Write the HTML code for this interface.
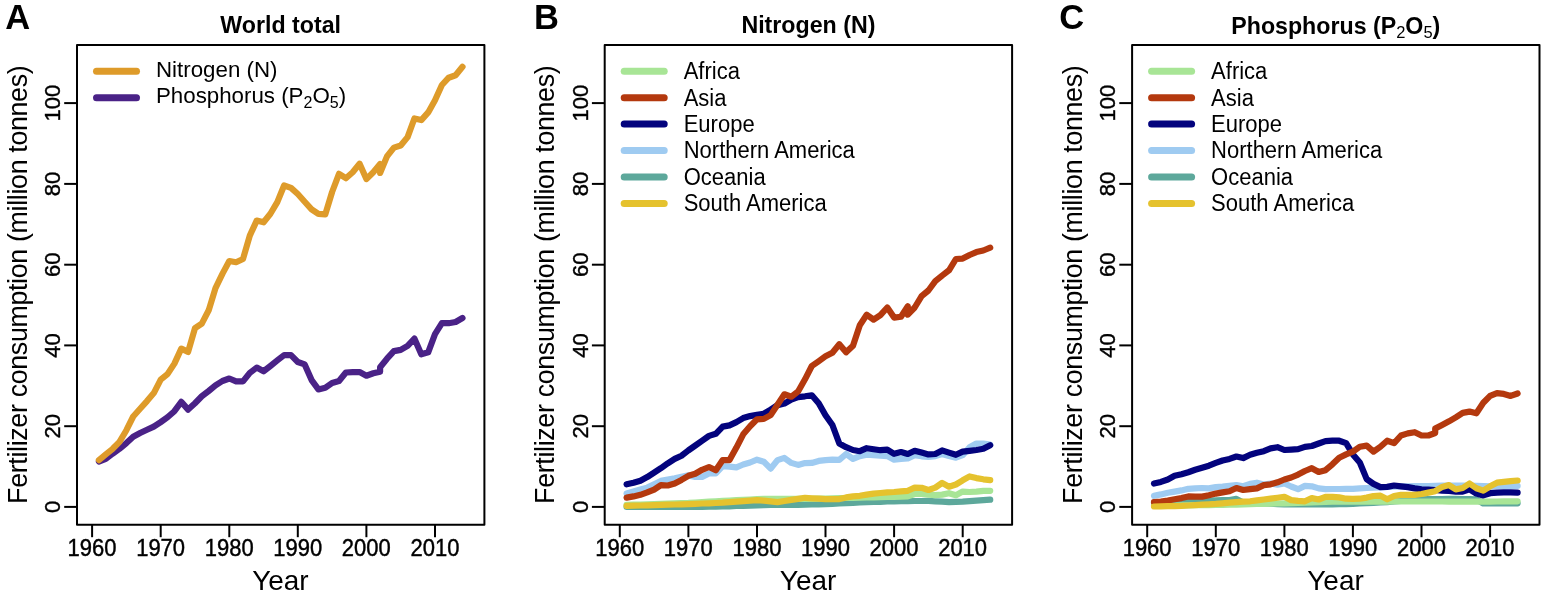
<!DOCTYPE html><html><head><meta charset="utf-8"><style>html,body{margin:0;padding:0;background:#fff;}svg{display:block;}</style></head><body>
<svg width="1547" height="598" viewBox="0 0 1547 598" font-family="'Liberation Sans', Arial, Helvetica, sans-serif">
<rect width="1547" height="598" fill="#fff"/>
<path d="M98.9 461.5 L105.8 458.9 L112.7 453.6 L119.5 448.8 L126.4 443.1 L133.2 436.7 L140.1 433.0 L147.0 429.8 L153.8 426.6 L160.7 422.1 L167.5 417.3 L174.4 411.2 L181.3 401.9 L188.1 409.6 L195.0 403.2 L201.8 396.3 L208.7 391.0 L215.5 385.4 L222.4 381.0 L229.3 378.5 L236.1 381.4 L243.0 381.4 L249.8 372.9 L256.7 367.6 L263.6 371.3 L270.4 366.0 L277.3 360.4 L284.1 355.1 L291.0 355.1 L297.8 362.0 L304.7 364.4 L311.6 380.1 L318.4 389.4 L325.3 387.8 L332.1 383.0 L339.0 381.0 L345.9 372.5 L352.7 372.1 L359.6 372.1 L366.4 375.7 L373.3 373.3 L380.1 371.7 L380.1 367.2 L387.0 358.7 L393.9 351.1 L400.7 349.9 L407.6 345.8 L414.4 338.6 L421.3 354.3 L428.2 352.3 L435.0 334.1 L441.9 323.2 L448.7 323.2 L455.6 322.0 L462.5 318.0" stroke="#4A2287" stroke-width="6.2" fill="none" stroke-linecap="round" stroke-linejoin="round"/>
<path d="M98.9 460.1 L105.8 454.4 L112.7 448.8 L119.5 441.9 L126.4 430.2 L133.2 416.5 L140.1 408.8 L147.0 401.1 L153.8 393.1 L160.7 379.7 L167.5 374.1 L174.4 363.6 L181.3 348.6 L188.1 351.9 L195.0 328.1 L201.8 323.6 L208.7 310.3 L215.5 288.1 L222.4 273.9 L229.3 261.0 L236.1 262.2 L243.0 259.0 L249.8 235.6 L256.7 220.6 L263.6 222.3 L270.4 213.8 L277.3 202.1 L284.1 185.5 L291.0 187.9 L297.8 194.0 L304.7 201.7 L311.6 209.3 L318.4 213.8 L325.3 214.4 L332.1 192.0 L339.0 173.8 L345.9 178.2 L352.7 172.2 L359.6 163.7 L366.4 179.1 L373.3 172.2 L380.1 164.1 L380.1 173.0 L387.0 156.4 L393.9 147.6 L400.7 145.5 L407.6 137.1 L414.4 118.5 L421.3 120.1 L428.2 112.4 L435.0 100.3 L441.9 85.0 L448.7 77.7 L455.6 75.3 L462.5 66.8" stroke="#DE9B2A" stroke-width="6.2" fill="none" stroke-linecap="round" stroke-linejoin="round"/>
<rect x="77.0" y="45.0" width="407.4" height="479.7" fill="none" stroke="#000" stroke-width="2" stroke-linejoin="round"/>
<line x1="92.1" y1="524.7" x2="92.1" y2="537.2" stroke="#000" stroke-width="2"/>
<text transform="translate(92.0,556.3) scale(1,1.08)" font-size="22.0" text-anchor="middle" stroke="#000" stroke-width="0.4">1960</text>
<line x1="160.7" y1="524.7" x2="160.7" y2="537.2" stroke="#000" stroke-width="2"/>
<text transform="translate(160.6,556.3) scale(1,1.08)" font-size="22.0" text-anchor="middle" stroke="#000" stroke-width="0.4">1970</text>
<line x1="229.3" y1="524.7" x2="229.3" y2="537.2" stroke="#000" stroke-width="2"/>
<text transform="translate(229.2,556.3) scale(1,1.08)" font-size="22.0" text-anchor="middle" stroke="#000" stroke-width="0.4">1980</text>
<line x1="297.8" y1="524.7" x2="297.8" y2="537.2" stroke="#000" stroke-width="2"/>
<text transform="translate(297.7,556.3) scale(1,1.08)" font-size="22.0" text-anchor="middle" stroke="#000" stroke-width="0.4">1990</text>
<line x1="366.4" y1="524.7" x2="366.4" y2="537.2" stroke="#000" stroke-width="2"/>
<text transform="translate(366.3,556.3) scale(1,1.08)" font-size="22.0" text-anchor="middle" stroke="#000" stroke-width="0.4">2000</text>
<line x1="435.0" y1="524.7" x2="435.0" y2="537.2" stroke="#000" stroke-width="2"/>
<text transform="translate(434.9,556.3) scale(1,1.08)" font-size="22.0" text-anchor="middle" stroke="#000" stroke-width="0.4">2010</text>
<line x1="64.2" y1="506.9" x2="77.0" y2="506.9" stroke="#000" stroke-width="2"/>
<text transform="translate(60.1,506.9) rotate(-90) scale(1,1.03)" font-size="22.0" text-anchor="middle" stroke="#000" stroke-width="0.4">0</text>
<line x1="64.2" y1="426.2" x2="77.0" y2="426.2" stroke="#000" stroke-width="2"/>
<text transform="translate(60.1,426.2) rotate(-90) scale(1,1.03)" font-size="22.0" text-anchor="middle" stroke="#000" stroke-width="0.4">20</text>
<line x1="64.2" y1="345.4" x2="77.0" y2="345.4" stroke="#000" stroke-width="2"/>
<text transform="translate(60.1,345.4) rotate(-90) scale(1,1.03)" font-size="22.0" text-anchor="middle" stroke="#000" stroke-width="0.4">40</text>
<line x1="64.2" y1="264.7" x2="77.0" y2="264.7" stroke="#000" stroke-width="2"/>
<text transform="translate(60.1,264.7) rotate(-90) scale(1,1.03)" font-size="22.0" text-anchor="middle" stroke="#000" stroke-width="0.4">60</text>
<line x1="64.2" y1="183.9" x2="77.0" y2="183.9" stroke="#000" stroke-width="2"/>
<text transform="translate(60.1,183.9) rotate(-90) scale(1,1.03)" font-size="22.0" text-anchor="middle" stroke="#000" stroke-width="0.4">80</text>
<line x1="64.2" y1="103.1" x2="77.0" y2="103.1" stroke="#000" stroke-width="2"/>
<text transform="translate(60.1,103.1) rotate(-90) scale(1,1.03)" font-size="22.0" text-anchor="middle" stroke="#000" stroke-width="0.4">100</text>
<text x="280.4" y="589.6" font-size="27.6" text-anchor="middle" textLength="56.5" lengthAdjust="spacingAndGlyphs">Year</text>
<text transform="translate(26.7,284.6) rotate(-90)" font-size="26.8" text-anchor="middle" textLength="438.6" lengthAdjust="spacing">Fertilizer consumption (million tonnes)</text>
<text x="280.7" y="32.9" font-size="23.2" font-weight="bold" text-anchor="middle">World total</text>
<text x="5.3" y="29.4" font-size="34.5" font-weight="bold">A</text>
<line x1="96.5" y1="71.2" x2="136.5" y2="71.2" stroke="#DE9B2A" stroke-width="7.0" stroke-linecap="round"/>
<text transform="translate(156.0,76.7) scale(1,1.0)" font-size="22.3">Nitrogen (N)</text>
<line x1="96.5" y1="97.7" x2="136.5" y2="97.7" stroke="#4A2287" stroke-width="7.0" stroke-linecap="round"/>
<text transform="translate(156.0,103.2) scale(1,1.0)" font-size="22.3">Phosphorus (P<tspan font-size="16.0" dy="4.3">2</tspan><tspan dy="-4.3">O</tspan><tspan font-size="16.0" dy="4.3">5</tspan><tspan dy="-4.3">)</tspan></text>
<path d="M626.6 506.9 L633.5 506.9 L640.4 506.9 L647.2 506.9 L654.1 506.9 L660.9 506.9 L667.8 506.9 L674.7 506.9 L681.5 506.9 L688.4 506.9 L695.2 506.9 L702.1 506.8 L709.0 506.7 L715.8 506.6 L722.7 506.5 L729.5 506.3 L736.4 506.0 L743.2 505.8 L750.1 505.6 L757.0 505.3 L763.8 505.2 L770.7 505.0 L777.5 504.9 L784.4 504.9 L791.3 504.8 L798.1 504.8 L805.0 504.7 L811.8 504.5 L818.7 504.3 L825.5 504.1 L832.4 503.8 L839.3 503.5 L846.1 503.1 L853.0 502.8 L859.8 502.5 L866.7 502.2 L873.6 502.0 L880.4 501.8 L887.3 501.5 L894.1 501.3 L901.0 501.2 L907.8 501.1 L914.7 501.0 L921.6 501.0 L928.4 500.9 L935.3 501.3 L942.1 501.7 L949.0 502.1 L955.9 501.9 L962.7 501.7 L969.6 501.2 L976.4 500.7 L983.3 500.2 L990.2 499.7" stroke="#5DA89B" stroke-width="6.2" fill="none" stroke-linecap="round" stroke-linejoin="round"/>
<path d="M626.6 504.9 L633.5 504.7 L640.4 504.5 L647.2 504.3 L654.1 504.1 L660.9 503.9 L667.8 503.6 L674.7 503.4 L681.5 503.1 L688.4 502.9 L695.2 502.5 L702.1 502.1 L709.0 501.7 L715.8 501.3 L722.7 500.9 L729.5 500.5 L736.4 500.2 L743.2 499.9 L750.1 499.5 L757.0 499.2 L763.8 498.9 L770.7 498.9 L777.5 498.9 L784.4 498.9 L791.3 498.9 L798.1 498.9 L805.0 498.9 L811.8 498.9 L818.7 498.7 L825.5 498.5 L832.4 498.3 L839.3 498.2 L846.1 498.0 L853.0 497.8 L859.8 497.6 L866.7 497.5 L873.6 497.3 L880.4 497.1 L887.3 497.0 L894.1 496.8 L901.0 496.6 L907.8 496.4 L914.7 494.0 L921.6 493.8 L928.4 494.6 L935.3 495.2 L942.1 494.6 L949.0 493.2 L955.9 495.2 L962.7 491.6 L969.6 492.0 L976.4 491.6 L983.3 490.8 L990.2 490.8" stroke="#A8E596" stroke-width="6.2" fill="none" stroke-linecap="round" stroke-linejoin="round"/>
<path d="M626.6 493.6 L633.5 491.6 L640.4 489.6 L647.2 487.6 L654.1 484.3 L660.9 480.9 L667.8 479.5 L674.7 478.3 L681.5 476.9 L688.4 475.4 L695.2 476.9 L702.1 476.9 L709.0 473.4 L715.8 473.4 L722.7 466.2 L729.5 466.6 L736.4 467.4 L743.2 464.5 L750.1 462.5 L757.0 459.7 L763.8 461.7 L770.7 468.6 L777.5 460.1 L784.4 457.9 L791.3 462.9 L798.1 464.9 L805.0 463.1 L811.8 462.9 L818.7 460.9 L825.5 460.1 L832.4 459.7 L839.3 459.9 L846.1 454.0 L853.0 458.9 L859.8 456.1 L866.7 454.6 L873.6 455.2 L880.4 455.7 L887.3 456.1 L894.1 459.7 L901.0 458.9 L907.8 458.5 L914.7 455.2 L921.6 456.3 L928.4 456.9 L935.3 456.1 L942.1 454.0 L949.0 456.1 L955.9 457.7 L962.7 455.2 L969.6 447.2 L976.4 443.5 L983.3 443.5 L990.2 444.5" stroke="#9FCBF1" stroke-width="6.2" fill="none" stroke-linecap="round" stroke-linejoin="round"/>
<path d="M626.6 484.3 L633.5 482.7 L640.4 480.7 L647.2 477.1 L654.1 472.6 L660.9 468.2 L667.8 463.3 L674.7 458.9 L681.5 455.7 L688.4 450.4 L695.2 445.6 L702.1 440.7 L709.0 435.9 L715.8 433.8 L722.7 426.6 L729.5 425.4 L736.4 422.1 L743.2 418.1 L750.1 416.1 L757.0 414.7 L763.8 413.7 L770.7 409.6 L777.5 405.2 L784.4 403.6 L791.3 399.5 L798.1 397.1 L805.0 396.3 L811.8 395.3 L818.7 403.2 L825.5 415.3 L832.4 425.0 L839.3 443.5 L846.1 447.2 L853.0 450.0 L859.8 451.2 L866.7 448.2 L873.6 449.2 L880.4 450.2 L887.3 449.6 L894.1 453.8 L901.0 452.0 L907.8 454.0 L914.7 450.8 L921.6 452.6 L928.4 454.4 L935.3 454.0 L942.1 450.4 L949.0 452.6 L955.9 454.8 L962.7 451.6 L969.6 450.8 L976.4 450.0 L983.3 448.8 L990.2 445.2" stroke="#03037D" stroke-width="6.2" fill="none" stroke-linecap="round" stroke-linejoin="round"/>
<path d="M626.6 497.6 L633.5 496.4 L640.4 494.8 L647.2 492.4 L654.1 489.6 L660.9 485.1 L667.8 485.5 L674.7 483.5 L681.5 479.9 L688.4 475.8 L695.2 473.8 L702.1 469.8 L709.0 467.0 L715.8 470.2 L722.7 460.1 L729.5 460.1 L736.4 447.6 L743.2 434.3 L750.1 426.2 L757.0 419.3 L763.8 418.9 L770.7 415.1 L777.5 404.8 L784.4 394.3 L791.3 396.7 L798.1 391.5 L805.0 379.3 L811.8 366.0 L818.7 361.2 L825.5 356.3 L832.4 352.7 L839.3 344.2 L846.1 352.3 L853.0 345.8 L859.8 325.2 L866.7 314.7 L873.6 319.6 L880.4 315.1 L887.3 307.5 L894.1 317.6 L901.0 316.7 L907.8 306.3 L907.8 314.7 L914.7 307.5 L921.6 296.2 L928.4 290.5 L935.3 281.2 L942.1 275.6 L949.0 270.3 L955.9 259.0 L962.7 258.6 L969.6 255.0 L976.4 252.1 L983.3 250.5 L990.2 247.7" stroke="#B4390E" stroke-width="6.2" fill="none" stroke-linecap="round" stroke-linejoin="round"/>
<path d="M626.6 505.9 L633.5 505.7 L640.4 505.5 L647.2 505.3 L654.1 505.1 L660.9 504.9 L667.8 504.7 L674.7 504.5 L681.5 504.3 L688.4 504.1 L695.2 503.8 L702.1 503.5 L709.0 503.3 L715.8 503.0 L722.7 502.7 L729.5 502.2 L736.4 501.6 L743.2 501.1 L750.1 500.6 L757.0 500.1 L763.8 500.7 L770.7 501.4 L777.5 502.1 L784.4 501.0 L791.3 499.9 L798.1 498.9 L805.0 497.8 L811.8 498.3 L818.7 498.7 L825.5 499.1 L832.4 499.1 L839.3 499.1 L846.1 497.4 L853.0 496.4 L859.8 495.8 L866.7 494.6 L873.6 493.6 L880.4 493.0 L887.3 492.4 L894.1 492.0 L901.0 491.4 L907.8 490.8 L914.7 487.6 L921.6 487.8 L928.4 490.0 L935.3 487.6 L942.1 482.9 L949.0 486.7 L955.9 484.5 L962.7 480.3 L969.6 476.4 L976.4 478.1 L983.3 479.3 L990.2 480.1" stroke="#E5C22E" stroke-width="6.2" fill="none" stroke-linecap="round" stroke-linejoin="round"/>
<rect x="604.7" y="45.0" width="407.4" height="479.7" fill="none" stroke="#000" stroke-width="2" stroke-linejoin="round"/>
<line x1="619.8" y1="524.7" x2="619.8" y2="537.2" stroke="#000" stroke-width="2"/>
<text transform="translate(619.7,556.3) scale(1,1.08)" font-size="22.0" text-anchor="middle" stroke="#000" stroke-width="0.4">1960</text>
<line x1="688.4" y1="524.7" x2="688.4" y2="537.2" stroke="#000" stroke-width="2"/>
<text transform="translate(688.3,556.3) scale(1,1.08)" font-size="22.0" text-anchor="middle" stroke="#000" stroke-width="0.4">1970</text>
<line x1="757.0" y1="524.7" x2="757.0" y2="537.2" stroke="#000" stroke-width="2"/>
<text transform="translate(756.9,556.3) scale(1,1.08)" font-size="22.0" text-anchor="middle" stroke="#000" stroke-width="0.4">1980</text>
<line x1="825.5" y1="524.7" x2="825.5" y2="537.2" stroke="#000" stroke-width="2"/>
<text transform="translate(825.4,556.3) scale(1,1.08)" font-size="22.0" text-anchor="middle" stroke="#000" stroke-width="0.4">1990</text>
<line x1="894.1" y1="524.7" x2="894.1" y2="537.2" stroke="#000" stroke-width="2"/>
<text transform="translate(894.0,556.3) scale(1,1.08)" font-size="22.0" text-anchor="middle" stroke="#000" stroke-width="0.4">2000</text>
<line x1="962.7" y1="524.7" x2="962.7" y2="537.2" stroke="#000" stroke-width="2"/>
<text transform="translate(962.6,556.3) scale(1,1.08)" font-size="22.0" text-anchor="middle" stroke="#000" stroke-width="0.4">2010</text>
<line x1="591.9" y1="506.9" x2="604.7" y2="506.9" stroke="#000" stroke-width="2"/>
<text transform="translate(587.8,506.9) rotate(-90) scale(1,1.03)" font-size="22.0" text-anchor="middle" stroke="#000" stroke-width="0.4">0</text>
<line x1="591.9" y1="426.2" x2="604.7" y2="426.2" stroke="#000" stroke-width="2"/>
<text transform="translate(587.8,426.2) rotate(-90) scale(1,1.03)" font-size="22.0" text-anchor="middle" stroke="#000" stroke-width="0.4">20</text>
<line x1="591.9" y1="345.4" x2="604.7" y2="345.4" stroke="#000" stroke-width="2"/>
<text transform="translate(587.8,345.4) rotate(-90) scale(1,1.03)" font-size="22.0" text-anchor="middle" stroke="#000" stroke-width="0.4">40</text>
<line x1="591.9" y1="264.7" x2="604.7" y2="264.7" stroke="#000" stroke-width="2"/>
<text transform="translate(587.8,264.7) rotate(-90) scale(1,1.03)" font-size="22.0" text-anchor="middle" stroke="#000" stroke-width="0.4">60</text>
<line x1="591.9" y1="183.9" x2="604.7" y2="183.9" stroke="#000" stroke-width="2"/>
<text transform="translate(587.8,183.9) rotate(-90) scale(1,1.03)" font-size="22.0" text-anchor="middle" stroke="#000" stroke-width="0.4">80</text>
<line x1="591.9" y1="103.1" x2="604.7" y2="103.1" stroke="#000" stroke-width="2"/>
<text transform="translate(587.8,103.1) rotate(-90) scale(1,1.03)" font-size="22.0" text-anchor="middle" stroke="#000" stroke-width="0.4">100</text>
<text x="808.1" y="589.6" font-size="27.6" text-anchor="middle" textLength="56.5" lengthAdjust="spacingAndGlyphs">Year</text>
<text transform="translate(554.4,284.6) rotate(-90)" font-size="26.8" text-anchor="middle" textLength="438.6" lengthAdjust="spacing">Fertilizer consumption (million tonnes)</text>
<text x="808.4" y="32.9" font-size="23.2" font-weight="bold" text-anchor="middle">Nitrogen (N)</text>
<text x="533.9" y="29.4" font-size="34.5" font-weight="bold">B</text>
<line x1="624.2" y1="71.2" x2="664.2" y2="71.2" stroke="#A8E596" stroke-width="7.0" stroke-linecap="round"/>
<text transform="translate(683.7,79.0) scale(1,1.05)" font-size="22.0">Africa</text>
<line x1="624.2" y1="97.7" x2="664.2" y2="97.7" stroke="#B4390E" stroke-width="7.0" stroke-linecap="round"/>
<text transform="translate(683.7,105.5) scale(1,1.05)" font-size="22.0">Asia</text>
<line x1="624.2" y1="124.1" x2="664.2" y2="124.1" stroke="#03037D" stroke-width="7.0" stroke-linecap="round"/>
<text transform="translate(683.7,131.9) scale(1,1.05)" font-size="22.0">Europe</text>
<line x1="624.2" y1="150.6" x2="664.2" y2="150.6" stroke="#9FCBF1" stroke-width="7.0" stroke-linecap="round"/>
<text transform="translate(683.7,158.4) scale(1,1.05)" font-size="22.0">Northern America</text>
<line x1="624.2" y1="177.0" x2="664.2" y2="177.0" stroke="#5DA89B" stroke-width="7.0" stroke-linecap="round"/>
<text transform="translate(683.7,184.8) scale(1,1.05)" font-size="22.0">Oceania</text>
<line x1="624.2" y1="203.4" x2="664.2" y2="203.4" stroke="#E5C22E" stroke-width="7.0" stroke-linecap="round"/>
<text transform="translate(683.7,211.2) scale(1,1.05)" font-size="22.0">South America</text>
<path d="M1154.0 502.9 L1160.9 502.5 L1167.8 502.1 L1174.6 501.7 L1181.5 501.3 L1188.3 500.9 L1195.2 500.7 L1202.1 500.6 L1208.9 500.5 L1215.8 500.3 L1222.6 500.2 L1229.5 500.1 L1236.4 498.9 L1243.2 502.5 L1250.1 502.8 L1256.9 503.1 L1263.8 503.4 L1270.6 503.7 L1277.5 504.1 L1284.4 504.5 L1291.2 504.5 L1298.1 504.5 L1304.9 504.5 L1311.8 504.5 L1318.7 504.5 L1325.5 504.5 L1332.4 504.4 L1339.2 504.2 L1346.1 504.1 L1352.9 503.9 L1359.8 503.5 L1366.7 503.2 L1373.5 502.8 L1380.4 502.5 L1387.2 502.1 L1394.1 501.5 L1401.0 501.0 L1407.8 500.4 L1414.7 499.8 L1421.5 499.3 L1428.4 499.2 L1435.2 499.1 L1442.1 499.0 L1449.0 498.9 L1455.8 498.9 L1462.7 499.0 L1469.5 499.1 L1476.4 499.3 L1483.3 503.5 L1490.1 503.5 L1497.0 503.4 L1503.8 503.4 L1510.7 503.3 L1517.6 503.3" stroke="#5DA89B" stroke-width="6.2" fill="none" stroke-linecap="round" stroke-linejoin="round"/>
<path d="M1154.0 505.7 L1160.9 505.6 L1167.8 505.6 L1174.6 505.5 L1181.5 505.4 L1188.3 505.3 L1195.2 505.2 L1202.1 505.2 L1208.9 505.1 L1215.8 505.0 L1222.6 504.9 L1229.5 504.7 L1236.4 504.6 L1243.2 504.4 L1250.1 504.2 L1256.9 504.0 L1263.8 503.8 L1270.6 503.7 L1277.5 503.5 L1284.4 503.3 L1291.2 503.1 L1298.1 502.8 L1304.9 502.6 L1311.8 502.4 L1318.7 502.1 L1325.5 501.9 L1332.4 501.7 L1339.2 501.7 L1346.1 501.7 L1352.9 501.6 L1359.8 501.6 L1366.7 501.6 L1373.5 501.6 L1380.4 501.6 L1387.2 501.6 L1394.1 501.5 L1401.0 501.5 L1407.8 501.5 L1414.7 501.5 L1421.5 501.5 L1428.4 501.5 L1435.2 501.5 L1442.1 501.5 L1449.0 501.6 L1455.8 501.6 L1462.7 501.6 L1469.5 501.6 L1476.4 501.7 L1483.3 501.7 L1490.1 501.6 L1497.0 501.5 L1503.8 501.4 L1510.7 501.4 L1517.6 501.3" stroke="#A8E596" stroke-width="6.2" fill="none" stroke-linecap="round" stroke-linejoin="round"/>
<path d="M1154.0 495.8 L1160.9 494.4 L1167.8 492.8 L1174.6 491.6 L1181.5 490.4 L1188.3 488.8 L1195.2 488.4 L1202.1 488.0 L1208.9 488.4 L1215.8 487.1 L1222.6 486.7 L1229.5 485.9 L1236.4 485.1 L1243.2 486.3 L1250.1 483.9 L1256.9 482.7 L1263.8 484.5 L1270.6 483.5 L1277.5 484.7 L1284.4 483.5 L1291.2 486.5 L1298.1 489.2 L1304.9 485.9 L1311.8 486.3 L1318.7 488.4 L1325.5 489.2 L1332.4 489.0 L1339.2 489.0 L1346.1 488.9 L1352.9 488.8 L1359.8 488.4 L1366.7 488.0 L1373.5 487.6 L1380.4 487.3 L1387.2 487.0 L1394.1 486.7 L1401.0 486.3 L1407.8 486.3 L1414.7 486.2 L1421.5 486.1 L1428.4 486.0 L1435.2 485.9 L1442.1 485.7 L1449.0 485.5 L1455.8 485.5 L1462.7 485.5 L1469.5 485.7 L1476.4 485.9 L1483.3 486.1 L1490.1 486.3 L1497.0 486.2 L1503.8 486.1 L1510.7 486.0 L1517.6 485.9" stroke="#9FCBF1" stroke-width="6.2" fill="none" stroke-linecap="round" stroke-linejoin="round"/>
<path d="M1154.0 483.5 L1160.9 481.9 L1167.8 479.5 L1174.6 475.8 L1181.5 474.2 L1188.3 472.2 L1195.2 469.8 L1202.1 467.8 L1208.9 465.7 L1215.8 462.9 L1222.6 460.5 L1229.5 458.9 L1236.4 456.5 L1243.2 458.1 L1250.1 454.8 L1256.9 452.8 L1263.8 451.2 L1270.6 448.4 L1277.5 447.2 L1284.4 450.0 L1291.2 449.6 L1298.1 449.2 L1304.9 446.8 L1311.8 446.0 L1318.7 443.5 L1325.5 441.1 L1332.4 440.7 L1339.2 440.7 L1346.1 443.1 L1352.9 454.4 L1359.8 462.5 L1366.7 479.1 L1373.5 483.9 L1380.4 487.1 L1387.2 486.9 L1394.1 485.5 L1401.0 486.3 L1407.8 487.1 L1414.7 488.4 L1421.5 489.4 L1428.4 489.6 L1435.2 490.0 L1442.1 490.6 L1449.0 491.0 L1455.8 491.6 L1462.7 491.6 L1469.5 489.4 L1476.4 493.6 L1483.3 495.4 L1490.1 493.2 L1497.0 492.6 L1503.8 492.4 L1510.7 492.4 L1517.6 492.6" stroke="#03037D" stroke-width="6.2" fill="none" stroke-linecap="round" stroke-linejoin="round"/>
<path d="M1154.0 502.2 L1160.9 501.5 L1167.8 500.5 L1174.6 499.3 L1181.5 498.1 L1188.3 496.4 L1195.2 496.6 L1202.1 496.6 L1208.9 495.2 L1215.8 493.6 L1222.6 492.4 L1229.5 491.2 L1236.4 488.0 L1243.2 490.0 L1250.1 489.2 L1256.9 488.4 L1263.8 485.1 L1270.6 484.3 L1277.5 482.3 L1284.4 479.5 L1291.2 477.5 L1298.1 474.6 L1304.9 471.0 L1311.8 468.2 L1318.7 472.0 L1325.5 470.2 L1332.4 464.3 L1339.2 457.7 L1346.1 454.4 L1352.9 451.6 L1359.8 446.8 L1366.7 445.6 L1373.5 451.6 L1380.4 446.8 L1387.2 440.7 L1394.1 443.1 L1401.0 435.5 L1407.8 433.4 L1414.7 432.2 L1421.5 435.5 L1428.4 435.5 L1435.2 433.0 L1435.2 428.6 L1442.1 425.0 L1449.0 421.3 L1455.8 417.3 L1462.7 412.9 L1469.5 411.6 L1476.4 413.3 L1483.3 402.8 L1490.1 395.9 L1497.0 393.1 L1503.8 393.9 L1510.7 395.9 L1517.6 393.5" stroke="#B4390E" stroke-width="6.2" fill="none" stroke-linecap="round" stroke-linejoin="round"/>
<path d="M1154.0 506.5 L1160.9 506.4 L1167.8 506.2 L1174.6 506.1 L1181.5 505.9 L1188.3 505.5 L1195.2 505.1 L1202.1 504.7 L1208.9 504.3 L1215.8 503.9 L1222.6 503.3 L1229.5 502.7 L1236.4 502.1 L1243.2 501.7 L1250.1 501.3 L1256.9 500.4 L1263.8 499.5 L1270.6 498.6 L1277.5 497.7 L1284.4 496.8 L1291.2 500.1 L1298.1 500.9 L1304.9 501.3 L1311.8 498.1 L1318.7 499.5 L1325.5 496.8 L1332.4 496.8 L1339.2 497.4 L1346.1 498.7 L1352.9 498.9 L1359.8 498.7 L1366.7 497.6 L1373.5 496.0 L1380.4 495.6 L1387.2 499.3 L1394.1 496.0 L1401.0 494.8 L1407.8 494.8 L1414.7 494.8 L1421.5 494.0 L1428.4 492.6 L1435.2 491.2 L1442.1 486.9 L1449.0 485.1 L1455.8 489.4 L1462.7 488.0 L1469.5 483.5 L1476.4 488.2 L1483.3 490.6 L1490.1 486.3 L1497.0 482.7 L1503.8 481.9 L1510.7 481.1 L1517.6 480.5" stroke="#E5C22E" stroke-width="6.2" fill="none" stroke-linecap="round" stroke-linejoin="round"/>
<rect x="1132.1" y="45.0" width="407.4" height="479.7" fill="none" stroke="#000" stroke-width="2" stroke-linejoin="round"/>
<line x1="1147.2" y1="524.7" x2="1147.2" y2="537.2" stroke="#000" stroke-width="2"/>
<text transform="translate(1147.1,556.3) scale(1,1.08)" font-size="22.0" text-anchor="middle" stroke="#000" stroke-width="0.4">1960</text>
<line x1="1215.8" y1="524.7" x2="1215.8" y2="537.2" stroke="#000" stroke-width="2"/>
<text transform="translate(1215.7,556.3) scale(1,1.08)" font-size="22.0" text-anchor="middle" stroke="#000" stroke-width="0.4">1970</text>
<line x1="1284.4" y1="524.7" x2="1284.4" y2="537.2" stroke="#000" stroke-width="2"/>
<text transform="translate(1284.3,556.3) scale(1,1.08)" font-size="22.0" text-anchor="middle" stroke="#000" stroke-width="0.4">1980</text>
<line x1="1352.9" y1="524.7" x2="1352.9" y2="537.2" stroke="#000" stroke-width="2"/>
<text transform="translate(1352.8,556.3) scale(1,1.08)" font-size="22.0" text-anchor="middle" stroke="#000" stroke-width="0.4">1990</text>
<line x1="1421.5" y1="524.7" x2="1421.5" y2="537.2" stroke="#000" stroke-width="2"/>
<text transform="translate(1421.4,556.3) scale(1,1.08)" font-size="22.0" text-anchor="middle" stroke="#000" stroke-width="0.4">2000</text>
<line x1="1490.1" y1="524.7" x2="1490.1" y2="537.2" stroke="#000" stroke-width="2"/>
<text transform="translate(1490.0,556.3) scale(1,1.08)" font-size="22.0" text-anchor="middle" stroke="#000" stroke-width="0.4">2010</text>
<line x1="1119.3" y1="506.9" x2="1132.1" y2="506.9" stroke="#000" stroke-width="2"/>
<text transform="translate(1115.2,506.9) rotate(-90) scale(1,1.03)" font-size="22.0" text-anchor="middle" stroke="#000" stroke-width="0.4">0</text>
<line x1="1119.3" y1="426.2" x2="1132.1" y2="426.2" stroke="#000" stroke-width="2"/>
<text transform="translate(1115.2,426.2) rotate(-90) scale(1,1.03)" font-size="22.0" text-anchor="middle" stroke="#000" stroke-width="0.4">20</text>
<line x1="1119.3" y1="345.4" x2="1132.1" y2="345.4" stroke="#000" stroke-width="2"/>
<text transform="translate(1115.2,345.4) rotate(-90) scale(1,1.03)" font-size="22.0" text-anchor="middle" stroke="#000" stroke-width="0.4">40</text>
<line x1="1119.3" y1="264.7" x2="1132.1" y2="264.7" stroke="#000" stroke-width="2"/>
<text transform="translate(1115.2,264.7) rotate(-90) scale(1,1.03)" font-size="22.0" text-anchor="middle" stroke="#000" stroke-width="0.4">60</text>
<line x1="1119.3" y1="183.9" x2="1132.1" y2="183.9" stroke="#000" stroke-width="2"/>
<text transform="translate(1115.2,183.9) rotate(-90) scale(1,1.03)" font-size="22.0" text-anchor="middle" stroke="#000" stroke-width="0.4">80</text>
<line x1="1119.3" y1="103.1" x2="1132.1" y2="103.1" stroke="#000" stroke-width="2"/>
<text transform="translate(1115.2,103.1) rotate(-90) scale(1,1.03)" font-size="22.0" text-anchor="middle" stroke="#000" stroke-width="0.4">100</text>
<text x="1335.5" y="589.6" font-size="27.6" text-anchor="middle" textLength="56.5" lengthAdjust="spacingAndGlyphs">Year</text>
<text transform="translate(1081.8,284.6) rotate(-90)" font-size="26.8" text-anchor="middle" textLength="438.6" lengthAdjust="spacing">Fertilizer consumption (million tonnes)</text>
<text x="1335.8" y="33.7" font-size="23.2" font-weight="bold" text-anchor="middle">Phosphorus (P<tspan font-weight="normal" font-size="16.5" dy="4.6">2</tspan><tspan dy="-4.6">O</tspan><tspan font-weight="normal" font-size="16.5" dy="4.6">5</tspan><tspan dy="-4.6">)</tspan></text>
<text x="1059.2" y="29.4" font-size="34.5" font-weight="bold">C</text>
<line x1="1151.6" y1="71.2" x2="1191.6" y2="71.2" stroke="#A8E596" stroke-width="7.0" stroke-linecap="round"/>
<text transform="translate(1211.1,79.0) scale(1,1.05)" font-size="22.0">Africa</text>
<line x1="1151.6" y1="97.7" x2="1191.6" y2="97.7" stroke="#B4390E" stroke-width="7.0" stroke-linecap="round"/>
<text transform="translate(1211.1,105.5) scale(1,1.05)" font-size="22.0">Asia</text>
<line x1="1151.6" y1="124.1" x2="1191.6" y2="124.1" stroke="#03037D" stroke-width="7.0" stroke-linecap="round"/>
<text transform="translate(1211.1,131.9) scale(1,1.05)" font-size="22.0">Europe</text>
<line x1="1151.6" y1="150.6" x2="1191.6" y2="150.6" stroke="#9FCBF1" stroke-width="7.0" stroke-linecap="round"/>
<text transform="translate(1211.1,158.4) scale(1,1.05)" font-size="22.0">Northern America</text>
<line x1="1151.6" y1="177.0" x2="1191.6" y2="177.0" stroke="#5DA89B" stroke-width="7.0" stroke-linecap="round"/>
<text transform="translate(1211.1,184.8) scale(1,1.05)" font-size="22.0">Oceania</text>
<line x1="1151.6" y1="203.4" x2="1191.6" y2="203.4" stroke="#E5C22E" stroke-width="7.0" stroke-linecap="round"/>
<text transform="translate(1211.1,211.2) scale(1,1.05)" font-size="22.0">South America</text>
</svg></body></html>
